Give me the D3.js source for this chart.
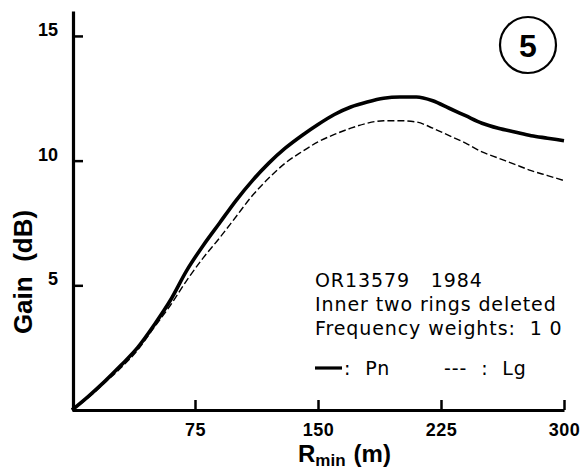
<!DOCTYPE html>
<html>
<head>
<meta charset="utf-8">
<script src="https://cdn.jsdelivr.net/npm/d3@7"></script>
<style>
  html, body { margin: 0; padding: 0; background: #fff; }
  svg { display: block; }
</style>
</head>
<body>
<svg id="chart" width="585" height="473"></svg>
<script>
// ---- data ----
const rmin = [0,10,20,30,40,50,60,70,80,90,100,110,120,130,140,150,160,170,180,190,200,210,220,230,240,250,260,270,280,290,300];
const pnGain = [0,0.55,1.15,1.8,2.5,3.4,4.4,5.6,6.6,7.5,8.4,9.2,9.9,10.5,11.0,11.45,11.85,12.15,12.35,12.5,12.55,12.55,12.4,12.1,11.8,11.5,11.3,11.15,11.0,10.9,10.8];
const lgGain = [0,0.5,1.1,1.7,2.4,3.3,4.2,5.2,6.1,6.9,7.75,8.6,9.3,9.9,10.35,10.75,11.05,11.3,11.5,11.6,11.6,11.55,11.3,11.0,10.7,10.35,10.1,9.85,9.6,9.4,9.2];
const xTicks = [75,150,225,300];
const yTicks = [5,10,15];
const annotLines = ["OR13579   1984", "Inner two rings deleted", "Frequency weights:  1 0"];
const panelLabel = "5";

// ---- chart ----
const svg = d3.select("#chart");
const x = d3.scaleLinear().domain([0,300]).range([72,564]);
const y = d3.scaleLinear().domain([0,16]).range([410,11]);

const fontBold = "'Liberation Sans', Arial, sans-serif";

// y axis
const yAxis = svg.append("g").attr("transform","translate(73,0)")
  .call(d3.axisLeft(y).tickValues(yTicks).tickSizeInner(-10).tickSizeOuter(0).tickPadding(15).tickFormat(d3.format("d")));
yAxis.select(".domain").attr("stroke","#000").attr("stroke-width",3.2);
yAxis.selectAll(".tick line").attr("stroke","#000").attr("stroke-width",2.5);
yAxis.selectAll(".tick text").attr("fill","#000").attr("font-family",fontBold)
  .attr("font-weight","bold").attr("font-size",18).attr("dy","-0.02em");

// x axis
const xAxis = svg.append("g").attr("transform","translate(0,410)")
  .call(d3.axisBottom(x).tickValues(xTicks).tickSizeInner(-10).tickSizeOuter(0).tickPadding(13).tickFormat(d3.format("d")));
xAxis.select(".domain").attr("stroke","#000").attr("stroke-width",3.2);
xAxis.selectAll(".tick line").attr("stroke","#000").attr("stroke-width",2.5);
xAxis.selectAll(".tick text").attr("fill","#000").attr("font-family",fontBold)
  .attr("font-weight","bold").attr("font-size",18).attr("letter-spacing","0.5px");

// lines
const line = (vals) => d3.line().x((d,i)=>x(rmin[i])).y(d=>y(d)).curve(d3.curveMonotoneX)(vals);
svg.append("path").attr("d", line(lgGain)).attr("fill","none").attr("stroke","#000")
  .attr("stroke-width",1.4).attr("stroke-dasharray","7,3");
svg.append("path").attr("d", line(pnGain)).attr("fill","none").attr("stroke","#000")
  .attr("stroke-width",3.6).attr("stroke-linejoin","round");

// y label
svg.append("text").attr("transform","translate(32,272) rotate(-90)")
  .attr("text-anchor","middle").attr("font-family",fontBold).attr("font-weight","bold")
  .attr("font-size",26).attr("fill","#000").attr("xml:space","preserve").text("Gain  (dB)");

// x label
const xl = svg.append("text").attr("x",298).attr("y",462).attr("font-family",fontBold)
  .attr("font-weight","bold").attr("font-size",24).attr("fill","#000");
xl.append("tspan").text("R");
xl.append("tspan").attr("font-size",17).attr("dy",4).text("min");
xl.append("tspan").attr("dy",-4).attr("dx",8).text("(m)");

// panel circle
svg.append("circle").attr("cx",528).attr("cy",45).attr("r",28).attr("fill","none")
  .attr("stroke","#000").attr("stroke-width",2.2);
svg.append("text").attr("x",528).attr("y",57).attr("text-anchor","middle")
  .attr("font-family",fontBold).attr("font-weight","bold").attr("font-size",32).attr("fill","#000").text(panelLabel);

// annotation
const annFont = "'DejaVu Sans', sans-serif";
annotLines.forEach((t,i)=>{
  svg.append("text").attr("x",315).attr("y",287 + i*24).attr("font-family",annFont)
    .attr("font-size",19).attr("letter-spacing","0.9px").attr("fill","#000")
    .attr("xml:space","preserve").text(t);
});
// legend
svg.append("line").attr("x1",315).attr("x2",342).attr("y1",368).attr("y2",368)
  .attr("stroke","#000").attr("stroke-width",3.2);
svg.append("text").attr("x",344).attr("y",375).attr("font-family",annFont).attr("font-size",19)
  .attr("letter-spacing","0.9px").attr("fill","#000").attr("xml:space","preserve").text(":  Pn");
svg.append("text").attr("x",444).attr("y",375).attr("font-family",annFont).attr("font-size",19)
  .attr("letter-spacing","0.9px").attr("fill","#000").attr("xml:space","preserve").text("---  :  Lg");
</script>
</body>
</html>
